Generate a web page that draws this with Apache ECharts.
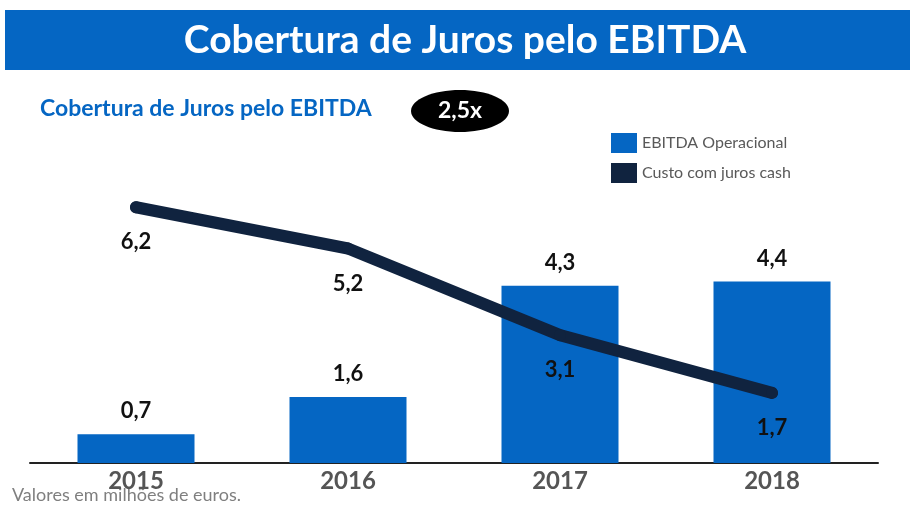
<!DOCTYPE html>
<html>
<head>
<meta charset="utf-8">
<script src="https://cdn.jsdelivr.net/npm/echarts@6/dist/echarts.min.js"></script>
<style>
  html, body { margin: 0; padding: 0; background: #fff; }
  #chart { width: 910px; height: 508px; }
</style>
</head>
<body>
<div id="chart"></div>
<script>
// dados
const years = ['2015', '2016', '2017', '2018'];
const ebitda = [0.7, 1.6, 4.3, 4.4];
const custoJuros = [6.2, 5.2, 3.1, 1.7];
const ratio = '2,5x';

const fmt = p => String(p.value).replace('.', ',');
const font = 'Lato, "Open Sans", sans-serif';

const chart = echarts.init(document.getElementById('chart'));
chart.setOption({
    animation: false,
    textStyle: { fontFamily: font },
    grid: { left: 30, right: 32, top: 133, bottom: 45 },
    legend: {
        orient: 'vertical',
        left: 606,
        top: 128,
        itemWidth: 26,
        itemHeight: 20,
        itemGap: 10,
        icon: 'rect',
        textStyle: { fontSize: 16, color: '#595959', fontFamily: font },
        data: ['EBITDA Operacional', 'Custo com juros cash']
    },
    graphic: [
        { type: 'rect', left: 5, top: 10, shape: { width: 905, height: 60 }, style: { fill: '#0566c3' } },
        {
            type: 'text', x: 465, y: 40,
            style: {
                text: 'Cobertura de Juros pelo EBITDA', fill: '#fff', font: 'bold 39px ' + font,
                align: 'center', verticalAlign: 'middle'
            }
        },
        {
            type: 'text', left: 40, top: 97,
            style: { text: 'Cobertura de Juros pelo EBITDA', fill: '#0566c3', font: 'bold 23px ' + font }
        },
        { type: 'ellipse', shape: { cx: 460, cy: 111, rx: 49, ry: 21 }, style: { fill: '#000' } },
        {
            type: 'text', x: 460, y: 111,
            style: { text: ratio, fill: '#fff', font: 'bold 23px ' + font, align: 'center', verticalAlign: 'middle' }
        },
        {
            type: 'text', left: 12, top: 486,
            style: { text: 'Valores em milhões de euros.', fill: '#7f7f7f', font: '18px ' + font }
        }
    ],
    xAxis: {
        type: 'category',
        data: years,
        axisTick: { show: false },
        axisLine: { lineStyle: { color: '#222', width: 2 } },
        axisLabel: { fontSize: 24, fontWeight: 'bold', color: '#555', margin: 6, fontFamily: font }
    },
    yAxis: {
        type: 'value',
        min: 0,
        max: 8,
        show: false,
        splitLine: { show: false }
    },
    series: [
        {
            name: 'EBITDA Operacional',
            type: 'bar',
            data: ebitda,
            barWidth: 117,
            itemStyle: { color: '#0566c3' },
            label: {
                show: true, position: 'top', distance: 12,
                formatter: fmt, fontSize: 22, fontWeight: 'bold', color: '#111', fontFamily: font
            }
        },
        {
            name: 'Custo com juros cash',
            type: 'line',
            data: custoJuros,
            symbol: 'circle',
            symbolSize: 12,
            lineStyle: { color: '#10233f', width: 12, cap: 'round', join: 'round' },
            itemStyle: { color: '#10233f' },
            label: {
                show: true, position: 'bottom', distance: 18,
                formatter: fmt, fontSize: 22, fontWeight: 'bold', color: '#111', fontFamily: font
            }
        }
    ]
});
</script>
</body>
</html>
